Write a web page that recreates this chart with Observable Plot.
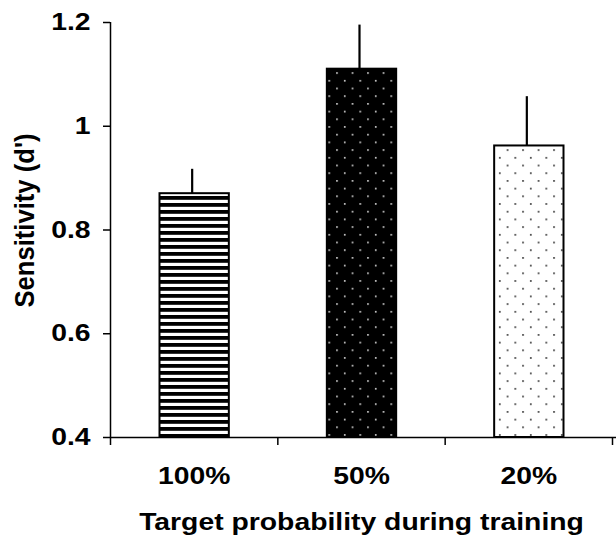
<!DOCTYPE html>
<html>
<head>
<meta charset="utf-8">
<script src="https://cdn.jsdelivr.net/npm/d3@7"></script>
<script src="https://cdn.jsdelivr.net/npm/@observablehq/plot@0.6"></script>
<style>
  html, body { margin: 0; padding: 0; background: white; }
</style>
</head>
<body>
<div id="chart"></div>
<script>
const categories = ["100%", "50%", "20%"];
const means = [0.87, 1.11, 0.962];
const errorTops = [0.917, 1.195, 1.057];
const patterns = ["stripes", "darkdots", "lightdots"];
const yTicks = [0.4, 0.6, 0.8, 1, 1.2];
const xTitle = "Target probability during training";
const yTitle = "Sensitivity (d')";

const data = categories.map((c, i) => ({c, i, v: means[i], e: errorTops[i], p: patterns[i]}));

const font = "'Liberation Sans', Arial, Helvetica, sans-serif";

const chart = Plot.plot({
  width: 616,
  height: 537,
  marginLeft: 110,
  marginRight: 4,
  marginTop: 22,
  marginBottom: 100,
  style: {fontFamily: font, fontWeight: "bold", fontSize: "24px", color: "black", background: "white", overflow: "visible"},
  x: {domain: [0, 3], axis: null},
  y: {domain: [0.4, 1.2], axis: null},
  marks: [
    Plot.rectY(data, {
      x1: d => d.i, x2: d => d.i + 1, y1: 0.4, y2: "v",
      insetLeft: 49.5, insetRight: 48.5,
      fill: d => `url(#${d.p})`, stroke: "black", strokeWidth: 2
    }),
    Plot.ruleX(data, {x: d => d.i + 0.5, y1: "v", y2: "e", stroke: "black", strokeWidth: 2.2, dx: -2}),
    Plot.ruleX([0], {y1: 0.4, y2: 1.2, stroke: "black", strokeWidth: 1.5}),
    Plot.ruleY([0.4], {stroke: "black", strokeWidth: 1.5, insetRight: -4}),
    Plot.axisY({ticks: yTicks, tickSize: 7, tickPadding: 13, tickFormat: d => String(d), label: null, fontSize: 24, strokeWidth: 1.5}),
    Plot.axisX({ticks: [0, 1, 2, 3], tickSize: 8, tickFormat: () => "", label: null, strokeWidth: 1.5}),
    Plot.text(data, {x: d => d.i + 0.5, y: 0.4, text: "c", dy: 46, lineAnchor: "bottom", fontSize: 24, fontWeight: "bold"}),
    Plot.text([xTitle], {frameAnchor: "bottom", text: d => d, dy: 92, lineAnchor: "bottom", fontSize: 24, fontWeight: "bold"}),
    Plot.text([yTitle], {frameAnchor: "left", text: d => d, rotate: -90, dx: -77, dy: 77.5, textAnchor: "start", lineAnchor: "bottom", fontSize: 28, fontWeight: "bold"})
  ]
});

const defs = `
<defs>
  <pattern id="stripes" patternUnits="userSpaceOnUse" width="10" height="7">
    <rect x="0" y="0" width="10" height="7" fill="white"/>
    <rect x="0" y="0" width="10" height="3.8" fill="black"/>
  </pattern>
  <pattern id="darkdots" patternUnits="userSpaceOnUse" width="15.5" height="15.4">
    <rect x="0" y="0" width="15.5" height="15.4" fill="black"/>
    <rect x="3" y="3" width="1.5" height="1.5" fill="white"/>
    <rect x="10.75" y="10.7" width="1.5" height="1.5" fill="white"/>
  </pattern>
  <pattern id="lightdots" patternUnits="userSpaceOnUse" width="15.5" height="15.4">
    <rect x="0" y="0" width="15.5" height="15.4" fill="white"/>
    <rect x="3" y="3" width="1.6" height="1.6" fill="#222"/>
    <rect x="10.75" y="10.7" width="1.6" height="1.6" fill="#222"/>
  </pattern>
</defs>`;
chart.insertAdjacentHTML("afterbegin", defs);
document.getElementById("chart").appendChild(chart);

// The reference text is horizontally stretched; widen glyphs to match.
const stretch = 1.18;
chart.querySelectorAll("text").forEach(t => {
  const len = t.getComputedTextLength();
  if (!(len > 0)) return;
  if (t.textContent === yTitle) {
    t.setAttribute("textLength", 174);
  } else {
    t.setAttribute("textLength", len * stretch);
  }
  t.setAttribute("lengthAdjust", "spacingAndGlyphs");
});
</script>
</body>
</html>
